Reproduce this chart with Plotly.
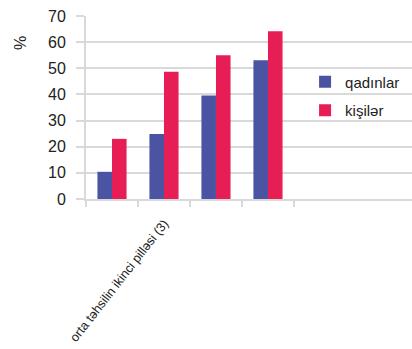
import plotly.graph_objects as go

categories = ["c1", "c2", "c3", "c4"]
tick_labels = ["", "orta təhsilin ikinci pilləsi (3)", "", ""]
series_names = ["qadınlar", "kişilər"]
women = [10.4, 24.9, 39.6, 53.1]
men = [23.0, 48.7, 55.0, 64.2]
y_ticks = [0, 10, 20, 30, 40, 50, 60, 70]

BLUE = "#4a54a2"
RED = "#e61e55"
GRID = "#d9d9d9"
FONT = "Liberation Sans, Arial, sans-serif"

fig = go.Figure()
fig.add_trace(go.Bar(x=categories, y=women, name=series_names[0], marker_color=BLUE,
                     marker_line_width=0, legendgroup="a"))
fig.add_trace(go.Bar(x=categories, y=men, name=series_names[1], marker_color=RED,
                     marker_line_width=0, legendgroup="b"))

fig.update_layout(
    width=412, height=349,
    margin=dict(l=86, r=0, t=16, b=150),
    paper_bgcolor="white", plot_bgcolor="white",
    barmode="group", bargap=0.44, bargroupgap=0,
    font=dict(family=FONT, color="#222222"),
    legend=dict(x=0.672, y=0.729, xanchor="left", yanchor="top",
                font=dict(size=15, color="#222222"), bgcolor="rgba(0,0,0,0)",
                traceorder="grouped", tracegroupgap=6, itemwidth=30),
    showlegend=True,
)
fig.update_xaxes(
    type="category", range=[-0.5, 5.77],
    tickmode="array", tickvals=categories, ticktext=tick_labels,
    tickson="boundaries", ticks="outside", ticklen=6, tickwidth=2, tickcolor=GRID,
    tickangle=-52, tickfont=dict(size=12.7, color="#222222"), ticklabelstandoff=10,
    showline=True, linecolor=GRID, linewidth=2, showgrid=False,
)
fig.update_yaxes(
    range=[0, 70], tickvals=y_ticks,
    ticks="outside", ticklen=8, tickwidth=2, tickcolor=GRID,
    tickfont=dict(size=16, color="#222222"), ticklabelstandoff=7,
    showgrid=True, gridcolor=GRID, gridwidth=2,
    showline=True, linecolor=GRID, linewidth=2, zeroline=False,
)
fig.add_annotation(text="%", xref="paper", yref="y", x=-0.235, y=59.6,
                   textangle=-90, showarrow=False, font=dict(size=16, color="#222222"))

fig.write_html("out.html")
